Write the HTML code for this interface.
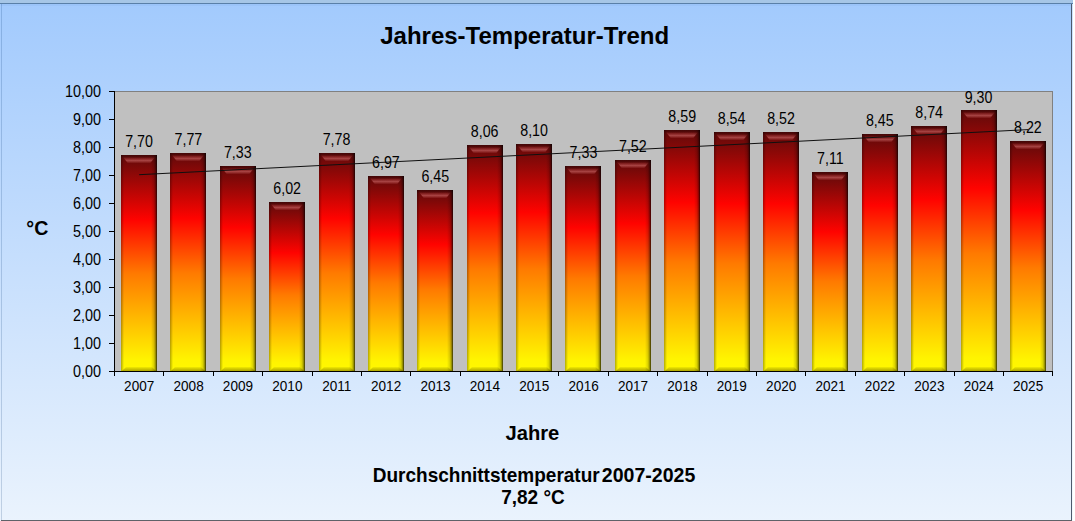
<!DOCTYPE html><html><head><meta charset="utf-8"><style>
html,body{margin:0;padding:0;background:#fff;}
body{width:1075px;height:521px;overflow:hidden;}
svg{display:block;}
text{font-family:"Liberation Sans",sans-serif;fill:#000;}
</style></head><body>
<svg width="1075" height="521" viewBox="0 0 1075 521" shape-rendering="auto">
<defs>
<linearGradient id="bg" x1="0" y1="0" x2="0" y2="1">
<stop offset="0" stop-color="#a2cafd"/><stop offset="1" stop-color="#eaf3fd"/>
</linearGradient>
<linearGradient id="fire" x1="0" y1="0" x2="0" y2="1">
<stop offset="0" stop-color="#5e0a0a"/><stop offset="0.3" stop-color="#ff0300"/><stop offset="0.55" stop-color="#ff7a00"/><stop offset="0.95" stop-color="#fff400"/><stop offset="1" stop-color="#fff800"/>
</linearGradient>
<linearGradient id="rsh" x1="0" y1="0" x2="1" y2="0">
<stop offset="0" stop-color="#000" stop-opacity="0"/><stop offset="0.5" stop-color="#000" stop-opacity="0.15"/><stop offset="0.8" stop-color="#000" stop-opacity="0.45"/><stop offset="1" stop-color="#000" stop-opacity="0.8"/>
</linearGradient>
<linearGradient id="lsh" x1="0" y1="0" x2="1" y2="0">
<stop offset="0" stop-color="#000" stop-opacity="0.3"/><stop offset="1" stop-color="#000" stop-opacity="0"/>
</linearGradient>
<linearGradient id="tband" x1="0" y1="0" x2="0" y2="1">
<stop offset="0" stop-color="#ff8080" stop-opacity="0"/><stop offset="0.55" stop-color="#ff9a9a" stop-opacity="0.4"/><stop offset="1" stop-color="#ff9090" stop-opacity="0"/>
</linearGradient>
<linearGradient id="bband" x1="0" y1="0" x2="0" y2="1">
<stop offset="0" stop-color="#000" stop-opacity="0.05"/><stop offset="1" stop-color="#201000" stop-opacity="0.35"/>
</linearGradient>
<linearGradient id="tdark" x1="0" y1="0" x2="0" y2="1">
<stop offset="0" stop-color="#000" stop-opacity="0.3"/><stop offset="1" stop-color="#000" stop-opacity="0.05"/>
</linearGradient>
</defs>
<rect x="0" y="0" width="1075" height="521" fill="#fff"/>
<rect x="0" y="0" width="1073" height="3" fill="#a6c6e6"/>
<rect x="0" y="3" width="1072" height="518" fill="url(#bg)"/>
<rect x="1" y="4" width="1" height="516" fill="#003070" fill-opacity="0.18"/>
<rect x="0" y="3" width="1073" height="1" fill="#5a80a8"/>
<rect x="1" y="4" width="1070" height="2" fill="#3060c0" fill-opacity="0.06"/>
<rect x="1071" y="4" width="1" height="517" fill="#4e5a6c"/>
<rect x="1072" y="4" width="1" height="517" fill="url(#bg)"/><rect x="1072" y="4" width="1" height="517" fill="#fff" fill-opacity="0.45"/>
<rect x="1" y="520" width="1071" height="1" fill="#5e6268"/>

<rect x="115" y="92" width="937" height="279" fill="#c0c0c0"/>
<rect x="115" y="91" width="938" height="1" fill="#808080"/>
<rect x="1052" y="91" width="1" height="280" fill="#808080"/>
<g><rect x="121" y="155" width="36" height="216" fill="url(#fire)"/>
<rect x="121" y="155" width="36" height="3" fill="url(#tdark)"/>
<polygon points="123,157 155,157 150,163.5 128,163.5" fill="url(#tband)"/>
<rect x="121" y="155" width="3" height="216" fill="url(#lsh)"/>
<rect x="151" y="155" width="6" height="216" fill="url(#rsh)"/>
<polygon points="122,371 156,371 152,367 126,367" fill="url(#bband)"/></g>
<g><rect x="170" y="153" width="36" height="218" fill="url(#fire)"/>
<rect x="170" y="153" width="36" height="3" fill="url(#tdark)"/>
<polygon points="172,155 204,155 199,161.5 177,161.5" fill="url(#tband)"/>
<rect x="170" y="153" width="3" height="218" fill="url(#lsh)"/>
<rect x="200" y="153" width="6" height="218" fill="url(#rsh)"/>
<polygon points="171,371 205,371 201,367 175,367" fill="url(#bband)"/></g>
<g><rect x="220" y="166" width="36" height="205" fill="url(#fire)"/>
<rect x="220" y="166" width="36" height="3" fill="url(#tdark)"/>
<polygon points="222,168 254,168 249,174.5 227,174.5" fill="url(#tband)"/>
<rect x="220" y="166" width="3" height="205" fill="url(#lsh)"/>
<rect x="250" y="166" width="6" height="205" fill="url(#rsh)"/>
<polygon points="221,371 255,371 251,367 225,367" fill="url(#bband)"/></g>
<g><rect x="269" y="202" width="36" height="169" fill="url(#fire)"/>
<rect x="269" y="202" width="36" height="3" fill="url(#tdark)"/>
<polygon points="271,204 303,204 298,210.5 276,210.5" fill="url(#tband)"/>
<rect x="269" y="202" width="3" height="169" fill="url(#lsh)"/>
<rect x="299" y="202" width="6" height="169" fill="url(#rsh)"/>
<polygon points="270,371 304,371 300,367 274,367" fill="url(#bband)"/></g>
<g><rect x="319" y="153" width="36" height="218" fill="url(#fire)"/>
<rect x="319" y="153" width="36" height="3" fill="url(#tdark)"/>
<polygon points="321,155 353,155 348,161.5 326,161.5" fill="url(#tband)"/>
<rect x="319" y="153" width="3" height="218" fill="url(#lsh)"/>
<rect x="349" y="153" width="6" height="218" fill="url(#rsh)"/>
<polygon points="320,371 354,371 350,367 324,367" fill="url(#bband)"/></g>
<g><rect x="368" y="176" width="36" height="195" fill="url(#fire)"/>
<rect x="368" y="176" width="36" height="3" fill="url(#tdark)"/>
<polygon points="370,178 402,178 397,184.5 375,184.5" fill="url(#tband)"/>
<rect x="368" y="176" width="3" height="195" fill="url(#lsh)"/>
<rect x="398" y="176" width="6" height="195" fill="url(#rsh)"/>
<polygon points="369,371 403,371 399,367 373,367" fill="url(#bband)"/></g>
<g><rect x="417" y="190" width="36" height="181" fill="url(#fire)"/>
<rect x="417" y="190" width="36" height="3" fill="url(#tdark)"/>
<polygon points="419,192 451,192 446,198.5 424,198.5" fill="url(#tband)"/>
<rect x="417" y="190" width="3" height="181" fill="url(#lsh)"/>
<rect x="447" y="190" width="6" height="181" fill="url(#rsh)"/>
<polygon points="418,371 452,371 448,367 422,367" fill="url(#bband)"/></g>
<g><rect x="467" y="145" width="36" height="226" fill="url(#fire)"/>
<rect x="467" y="145" width="36" height="3" fill="url(#tdark)"/>
<polygon points="469,147 501,147 496,153.5 474,153.5" fill="url(#tband)"/>
<rect x="467" y="145" width="3" height="226" fill="url(#lsh)"/>
<rect x="497" y="145" width="6" height="226" fill="url(#rsh)"/>
<polygon points="468,371 502,371 498,367 472,367" fill="url(#bband)"/></g>
<g><rect x="516" y="144" width="36" height="227" fill="url(#fire)"/>
<rect x="516" y="144" width="36" height="3" fill="url(#tdark)"/>
<polygon points="518,146 550,146 545,152.5 523,152.5" fill="url(#tband)"/>
<rect x="516" y="144" width="3" height="227" fill="url(#lsh)"/>
<rect x="546" y="144" width="6" height="227" fill="url(#rsh)"/>
<polygon points="517,371 551,371 547,367 521,367" fill="url(#bband)"/></g>
<g><rect x="565" y="166" width="36" height="205" fill="url(#fire)"/>
<rect x="565" y="166" width="36" height="3" fill="url(#tdark)"/>
<polygon points="567,168 599,168 594,174.5 572,174.5" fill="url(#tband)"/>
<rect x="565" y="166" width="3" height="205" fill="url(#lsh)"/>
<rect x="595" y="166" width="6" height="205" fill="url(#rsh)"/>
<polygon points="566,371 600,371 596,367 570,367" fill="url(#bband)"/></g>
<g><rect x="615" y="160" width="36" height="211" fill="url(#fire)"/>
<rect x="615" y="160" width="36" height="3" fill="url(#tdark)"/>
<polygon points="617,162 649,162 644,168.5 622,168.5" fill="url(#tband)"/>
<rect x="615" y="160" width="3" height="211" fill="url(#lsh)"/>
<rect x="645" y="160" width="6" height="211" fill="url(#rsh)"/>
<polygon points="616,371 650,371 646,367 620,367" fill="url(#bband)"/></g>
<g><rect x="664" y="130" width="36" height="241" fill="url(#fire)"/>
<rect x="664" y="130" width="36" height="3" fill="url(#tdark)"/>
<polygon points="666,132 698,132 693,138.5 671,138.5" fill="url(#tband)"/>
<rect x="664" y="130" width="3" height="241" fill="url(#lsh)"/>
<rect x="694" y="130" width="6" height="241" fill="url(#rsh)"/>
<polygon points="665,371 699,371 695,367 669,367" fill="url(#bband)"/></g>
<g><rect x="714" y="132" width="36" height="239" fill="url(#fire)"/>
<rect x="714" y="132" width="36" height="3" fill="url(#tdark)"/>
<polygon points="716,134 748,134 743,140.5 721,140.5" fill="url(#tband)"/>
<rect x="714" y="132" width="3" height="239" fill="url(#lsh)"/>
<rect x="744" y="132" width="6" height="239" fill="url(#rsh)"/>
<polygon points="715,371 749,371 745,367 719,367" fill="url(#bband)"/></g>
<g><rect x="763" y="132" width="36" height="239" fill="url(#fire)"/>
<rect x="763" y="132" width="36" height="3" fill="url(#tdark)"/>
<polygon points="765,134 797,134 792,140.5 770,140.5" fill="url(#tband)"/>
<rect x="763" y="132" width="3" height="239" fill="url(#lsh)"/>
<rect x="793" y="132" width="6" height="239" fill="url(#rsh)"/>
<polygon points="764,371 798,371 794,367 768,367" fill="url(#bband)"/></g>
<g><rect x="812" y="172" width="36" height="199" fill="url(#fire)"/>
<rect x="812" y="172" width="36" height="3" fill="url(#tdark)"/>
<polygon points="814,174 846,174 841,180.5 819,180.5" fill="url(#tband)"/>
<rect x="812" y="172" width="3" height="199" fill="url(#lsh)"/>
<rect x="842" y="172" width="6" height="199" fill="url(#rsh)"/>
<polygon points="813,371 847,371 843,367 817,367" fill="url(#bband)"/></g>
<g><rect x="862" y="134" width="36" height="237" fill="url(#fire)"/>
<rect x="862" y="134" width="36" height="3" fill="url(#tdark)"/>
<polygon points="864,136 896,136 891,142.5 869,142.5" fill="url(#tband)"/>
<rect x="862" y="134" width="3" height="237" fill="url(#lsh)"/>
<rect x="892" y="134" width="6" height="237" fill="url(#rsh)"/>
<polygon points="863,371 897,371 893,367 867,367" fill="url(#bband)"/></g>
<g><rect x="911" y="126" width="36" height="245" fill="url(#fire)"/>
<rect x="911" y="126" width="36" height="3" fill="url(#tdark)"/>
<polygon points="913,128 945,128 940,134.5 918,134.5" fill="url(#tband)"/>
<rect x="911" y="126" width="3" height="245" fill="url(#lsh)"/>
<rect x="941" y="126" width="6" height="245" fill="url(#rsh)"/>
<polygon points="912,371 946,371 942,367 916,367" fill="url(#bband)"/></g>
<g><rect x="961" y="110" width="36" height="261" fill="url(#fire)"/>
<rect x="961" y="110" width="36" height="3" fill="url(#tdark)"/>
<polygon points="963,112 995,112 990,118.5 968,118.5" fill="url(#tband)"/>
<rect x="961" y="110" width="3" height="261" fill="url(#lsh)"/>
<rect x="991" y="110" width="6" height="261" fill="url(#rsh)"/>
<polygon points="962,371 996,371 992,367 966,367" fill="url(#bband)"/></g>
<g><rect x="1010" y="141" width="36" height="230" fill="url(#fire)"/>
<rect x="1010" y="141" width="36" height="3" fill="url(#tdark)"/>
<polygon points="1012,143 1044,143 1039,149.5 1017,149.5" fill="url(#tband)"/>
<rect x="1010" y="141" width="3" height="230" fill="url(#lsh)"/>
<rect x="1040" y="141" width="6" height="230" fill="url(#rsh)"/>
<polygon points="1011,371 1045,371 1041,367 1015,367" fill="url(#bband)"/></g>
<line x1="139.19" y1="174.69" x2="1028.11" y2="129.62" stroke="#101010" stroke-width="1"/>
<rect x="114" y="91" width="1" height="281" fill="#000"/>
<rect x="114" y="371" width="939" height="1" fill="#000"/>
<rect x="109" y="371" width="5" height="1" fill="#000"/>
<text transform="translate(101.00,376.60) scale(0.96,1.08)" font-size="15" text-anchor="end">0,00</text>
<rect x="109" y="343" width="5" height="1" fill="#000"/>
<text transform="translate(101.00,348.60) scale(0.96,1.08)" font-size="15" text-anchor="end">1,00</text>
<rect x="109" y="315" width="5" height="1" fill="#000"/>
<text transform="translate(101.00,320.60) scale(0.96,1.08)" font-size="15" text-anchor="end">2,00</text>
<rect x="109" y="287" width="5" height="1" fill="#000"/>
<text transform="translate(101.00,292.60) scale(0.96,1.08)" font-size="15" text-anchor="end">3,00</text>
<rect x="109" y="259" width="5" height="1" fill="#000"/>
<text transform="translate(101.00,264.60) scale(0.96,1.08)" font-size="15" text-anchor="end">4,00</text>
<rect x="109" y="231" width="5" height="1" fill="#000"/>
<text transform="translate(101.00,236.60) scale(0.96,1.08)" font-size="15" text-anchor="end">5,00</text>
<rect x="109" y="203" width="5" height="1" fill="#000"/>
<text transform="translate(101.00,208.60) scale(0.96,1.08)" font-size="15" text-anchor="end">6,00</text>
<rect x="109" y="175" width="5" height="1" fill="#000"/>
<text transform="translate(101.00,180.60) scale(0.96,1.08)" font-size="15" text-anchor="end">7,00</text>
<rect x="109" y="147" width="5" height="1" fill="#000"/>
<text transform="translate(101.00,152.60) scale(0.96,1.08)" font-size="15" text-anchor="end">8,00</text>
<rect x="109" y="119" width="5" height="1" fill="#000"/>
<text transform="translate(101.00,124.60) scale(0.96,1.08)" font-size="15" text-anchor="end">9,00</text>
<rect x="109" y="91" width="5" height="1" fill="#000"/>
<text transform="translate(101.00,96.60) scale(0.96,1.08)" font-size="15" text-anchor="end">10,00</text>
<rect x="114" y="371" width="1" height="5" fill="#000"/>
<rect x="163" y="371" width="1" height="5" fill="#000"/>
<rect x="213" y="371" width="1" height="5" fill="#000"/>
<rect x="262" y="371" width="1" height="5" fill="#000"/>
<rect x="312" y="371" width="1" height="5" fill="#000"/>
<rect x="361" y="371" width="1" height="5" fill="#000"/>
<rect x="410" y="371" width="1" height="5" fill="#000"/>
<rect x="460" y="371" width="1" height="5" fill="#000"/>
<rect x="509" y="371" width="1" height="5" fill="#000"/>
<rect x="558" y="371" width="1" height="5" fill="#000"/>
<rect x="608" y="371" width="1" height="5" fill="#000"/>
<rect x="657" y="371" width="1" height="5" fill="#000"/>
<rect x="707" y="371" width="1" height="5" fill="#000"/>
<rect x="756" y="371" width="1" height="5" fill="#000"/>
<rect x="805" y="371" width="1" height="5" fill="#000"/>
<rect x="855" y="371" width="1" height="5" fill="#000"/>
<rect x="904" y="371" width="1" height="5" fill="#000"/>
<rect x="954" y="371" width="1" height="5" fill="#000"/>
<rect x="1003" y="371" width="1" height="5" fill="#000"/>
<rect x="1052" y="371" width="1" height="5" fill="#000"/>
<text transform="translate(139.19,390.80) scale(0.97,1.0)" font-size="14" text-anchor="middle">2007</text>
<text transform="translate(188.58,390.80) scale(0.97,1.0)" font-size="14" text-anchor="middle">2008</text>
<text transform="translate(237.96,390.80) scale(0.97,1.0)" font-size="14" text-anchor="middle">2009</text>
<text transform="translate(287.34,390.80) scale(0.97,1.0)" font-size="14" text-anchor="middle">2010</text>
<text transform="translate(336.73,390.80) scale(0.97,1.0)" font-size="14" text-anchor="middle">2011</text>
<text transform="translate(386.11,390.80) scale(0.97,1.0)" font-size="14" text-anchor="middle">2012</text>
<text transform="translate(435.50,390.80) scale(0.97,1.0)" font-size="14" text-anchor="middle">2013</text>
<text transform="translate(484.88,390.80) scale(0.97,1.0)" font-size="14" text-anchor="middle">2014</text>
<text transform="translate(534.27,390.80) scale(0.97,1.0)" font-size="14" text-anchor="middle">2015</text>
<text transform="translate(583.65,390.80) scale(0.97,1.0)" font-size="14" text-anchor="middle">2016</text>
<text transform="translate(633.03,390.80) scale(0.97,1.0)" font-size="14" text-anchor="middle">2017</text>
<text transform="translate(682.42,390.80) scale(0.97,1.0)" font-size="14" text-anchor="middle">2018</text>
<text transform="translate(731.80,390.80) scale(0.97,1.0)" font-size="14" text-anchor="middle">2019</text>
<text transform="translate(781.19,390.80) scale(0.97,1.0)" font-size="14" text-anchor="middle">2020</text>
<text transform="translate(830.57,390.80) scale(0.97,1.0)" font-size="14" text-anchor="middle">2021</text>
<text transform="translate(879.96,390.80) scale(0.97,1.0)" font-size="14" text-anchor="middle">2022</text>
<text transform="translate(929.34,390.80) scale(0.97,1.0)" font-size="14" text-anchor="middle">2023</text>
<text transform="translate(978.72,390.80) scale(0.97,1.0)" font-size="14" text-anchor="middle">2024</text>
<text transform="translate(1028.11,390.80) scale(0.97,1.0)" font-size="14" text-anchor="middle">2025</text>
<text transform="translate(138.99,147.40) scale(0.95,1.06)" font-size="15" text-anchor="middle">7,70</text>
<text transform="translate(188.38,145.44) scale(0.95,1.06)" font-size="15" text-anchor="middle">7,77</text>
<text transform="translate(237.76,157.76) scale(0.95,1.06)" font-size="15" text-anchor="middle">7,33</text>
<text transform="translate(287.14,194.44) scale(0.95,1.06)" font-size="15" text-anchor="middle">6,02</text>
<text transform="translate(336.53,145.16) scale(0.95,1.06)" font-size="15" text-anchor="middle">7,78</text>
<text transform="translate(385.91,167.84) scale(0.95,1.06)" font-size="15" text-anchor="middle">6,97</text>
<text transform="translate(435.30,182.40) scale(0.95,1.06)" font-size="15" text-anchor="middle">6,45</text>
<text transform="translate(484.68,137.32) scale(0.95,1.06)" font-size="15" text-anchor="middle">8,06</text>
<text transform="translate(534.07,136.20) scale(0.95,1.06)" font-size="15" text-anchor="middle">8,10</text>
<text transform="translate(583.45,157.76) scale(0.95,1.06)" font-size="15" text-anchor="middle">7,33</text>
<text transform="translate(632.83,152.44) scale(0.95,1.06)" font-size="15" text-anchor="middle">7,52</text>
<text transform="translate(682.22,122.48) scale(0.95,1.06)" font-size="15" text-anchor="middle">8,59</text>
<text transform="translate(731.60,123.88) scale(0.95,1.06)" font-size="15" text-anchor="middle">8,54</text>
<text transform="translate(780.99,124.44) scale(0.95,1.06)" font-size="15" text-anchor="middle">8,52</text>
<text transform="translate(830.37,163.92) scale(0.95,1.06)" font-size="15" text-anchor="middle">7,11</text>
<text transform="translate(879.76,126.40) scale(0.95,1.06)" font-size="15" text-anchor="middle">8,45</text>
<text transform="translate(929.14,118.28) scale(0.95,1.06)" font-size="15" text-anchor="middle">8,74</text>
<text transform="translate(978.52,102.60) scale(0.95,1.06)" font-size="15" text-anchor="middle">9,30</text>
<text transform="translate(1027.91,132.84) scale(0.95,1.06)" font-size="15" text-anchor="middle">8,22</text>
<text transform="translate(524.70,43.80) scale(1.0,1.0)" font-size="24" text-anchor="middle" font-weight="bold">Jahres-Temperatur-Trend</text>
<text transform="translate(37.30,234.90) scale(1.0,1.0)" font-size="19.6" text-anchor="middle" font-weight="bold">°C</text>
<text transform="translate(532.40,440.40) scale(1.0,1.0)" font-size="20.2" text-anchor="middle" font-weight="bold">Jahre</text>
<text transform="translate(372.80,481.90) scale(1.0,1.05)" font-size="19" text-anchor="start" font-weight="bold">Durchschnittstemperatur</text>
<text transform="translate(601.80,481.90) scale(1.03,1.05)" font-size="19" text-anchor="start" font-weight="bold">2007-2025</text>
<text transform="translate(533.00,503.90) scale(1.0,1.02)" font-size="19" text-anchor="middle" font-weight="bold">7,82 °C</text>
</svg></body></html>
